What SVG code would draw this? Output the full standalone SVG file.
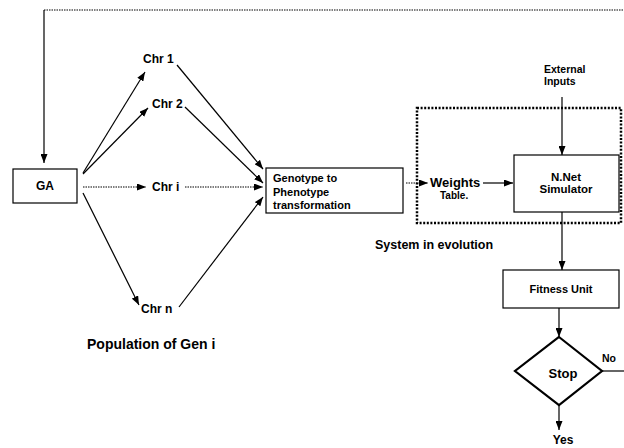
<svg xmlns="http://www.w3.org/2000/svg" width="624" height="448" viewBox="0 0 624 448">
<defs>
<marker id="ah" viewBox="0 0 10 10" refX="10" refY="5" markerWidth="9" markerHeight="7" markerUnits="userSpaceOnUse" orient="auto" preserveAspectRatio="none"><path d="M0,0 L10,5 L0,10 z" fill="#000"/></marker>
<style>
.t{font-family:"Liberation Sans",Arial,sans-serif;font-weight:bold;fill:#000}
.box{fill:#fff;stroke:#000;stroke-width:1.2}
.ln{stroke:#000;stroke-width:1.2;fill:none}
.dl{stroke:#000;stroke-width:1.2;fill:none;stroke-dasharray:1.5,1}
.arr{marker-end:url(#ah)}
</style>
</defs>
<rect width="624" height="448" fill="#fff"/>
<g id="connectors">
<line class="dl" x1="44" y1="10" x2="624" y2="10"/>
<line class="ln arr" x1="44" y1="10" x2="44" y2="163"/>
<line class="ln arr" x1="83" y1="173" x2="145" y2="72"/>
<line class="ln arr" x1="83" y1="174" x2="148" y2="108"/>
<line class="dl arr" x1="83" y1="187" x2="146" y2="187"/>
<line class="ln arr" x1="83" y1="193" x2="139" y2="305"/>
<line class="ln arr" x1="177" y1="65" x2="263" y2="169"/>
<line class="ln arr" x1="185" y1="107" x2="263" y2="183"/>
<line class="dl arr" x1="185" y1="187" x2="263" y2="187"/>
<line class="ln arr" x1="179" y1="307" x2="263" y2="197"/>
<line class="dl arr" x1="406" y1="183" x2="428" y2="183"/>
<line class="ln arr" x1="483" y1="183" x2="513" y2="183"/>
<line class="ln arr" x1="562" y1="97" x2="562" y2="155"/>
<line class="ln arr" x1="562" y1="212" x2="562" y2="270"/>
<line class="ln arr" x1="559" y1="308" x2="559" y2="337"/>
<line class="ln arr" x1="559" y1="405" x2="559" y2="430"/>
<line class="ln" x1="602" y1="371" x2="624" y2="371"/>
</g>
<g id="system">
<rect x="417" y="108" width="204" height="115" fill="none" stroke="#000" stroke-width="2.5" stroke-dasharray="2,1.6"/>
<text class="t" x="375" y="249" font-size="12.5">System in evolution</text>
</g>
<g id="ga">
<rect class="box" x="13" y="169" width="64" height="34"/>
<text class="t" x="45" y="190" font-size="12" text-anchor="middle">GA</text>
</g>
<g id="chr1"><text class="t" x="143" y="63" font-size="12">Chr 1</text></g>
<g id="chr2"><text class="t" x="152" y="108" font-size="12">Chr 2</text></g>
<g id="chri"><text class="t" x="152" y="191" font-size="12">Chr i</text></g>
<g id="chrn"><text class="t" x="141" y="313" font-size="12">Chr n</text></g>
<g id="population"><text class="t" x="87" y="349" font-size="14">Population of Gen i</text></g>
<g id="genotype">
<rect class="box" x="266" y="168" width="137" height="45"/>
<text class="t" x="273" y="182" font-size="11">Genotype to</text>
<text class="t" x="273" y="196" font-size="11">Phenotype</text>
<text class="t" x="273" y="209" font-size="11">transformation</text>
</g>
<g id="weights">
<text class="t" x="430" y="187" font-size="13">Weights</text>
<text class="t" x="440" y="199" font-size="10">Table.</text>
</g>
<g id="external">
<text class="t" x="544" y="73" font-size="10.5">External</text>
<text class="t" x="544" y="85" font-size="10.5">Inputs</text>
</g>
<g id="nnet">
<rect class="box" x="514" y="155" width="105" height="57"/>
<text class="t" x="566" y="181" font-size="11.5" text-anchor="middle">N.Net</text>
<text class="t" x="566" y="193" font-size="11.5" text-anchor="middle">Simulator</text>
</g>
<g id="fitness">
<rect class="box" x="503" y="270" width="116" height="38"/>
<text class="t" x="561" y="293" font-size="11" text-anchor="middle">Fitness Unit</text>
</g>
<g id="stop">
<polygon points="559,337 602,371 559,405 515,371" fill="#fff" stroke="#000" stroke-width="2.2" stroke-linejoin="miter"/>
<text class="t" x="563" y="378" font-size="13" text-anchor="middle">Stop</text>
</g>
<g id="no"><text class="t" x="602" y="362" font-size="10.5">No</text></g>
<g id="yes"><text class="t" x="563" y="444" font-size="12" text-anchor="middle">Yes</text></g>
</svg>
